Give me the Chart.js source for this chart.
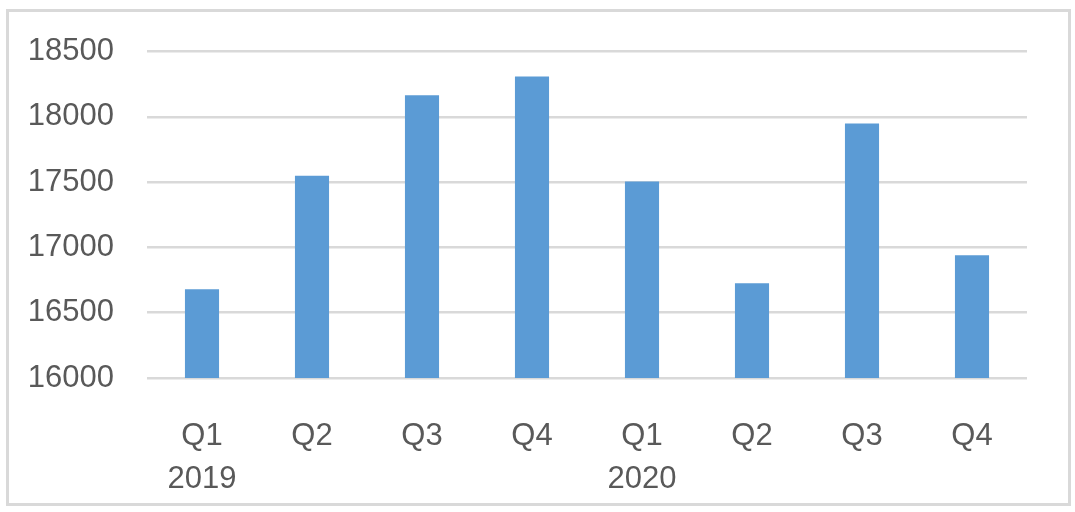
<!DOCTYPE html>
<html>
<head>
<meta charset="utf-8">
<script src="https://cdn.jsdelivr.net/npm/chart.js@4"></script>
<style>
  body { margin: 0; background: #fff; }
  #box { position: absolute; left: 6px; top: 9px; width: 1065px; height: 497px; box-sizing: border-box; border: 3px solid #d9d9d9; }
  #wrap { position: absolute; left: 0; top: 0; width: 1075px; height: 512px; }
</style>
</head>
<body>
<div id="box"></div>
<div id="wrap"><canvas id="myChart" width="1075" height="512"></canvas></div>
<script>
// quarters and years
var quarters = ["Q1", "Q2", "Q3", "Q4", "Q1", "Q2", "Q3", "Q4"];
var years = ["2019", "", "", "", "2020", "", "", ""];
var values = [16680, 17550, 18165, 18310, 17505, 16725, 17950, 16940];

var labels = quarters.map(function(q, i) {
  return [q, years[i]];
});

var ctx = document.getElementById('myChart').getContext('2d');
var myChart = new Chart(ctx, {
  type: 'bar',
  data: {
    labels: labels,
    datasets: [{
      data: values,
      backgroundColor: "#5b9bd5",
      barPercentage: 0.62,
      categoryPercentage: 0.5
    }]
  },
  options: {
    responsive: false,
    animation: false,
    layout: { padding: { left: 7, right: 48, top: 51, bottom: 10 } },
    plugins: { legend: { display: false }, tooltip: { enabled: false } },
    scales: {
      x: {
        grid: { display: false, drawTicks: false },
        border: { display: false },
        ticks: {
          color: "#595959",
          font: { family: "Liberation Sans", size: 31, lineHeight: 1.38 },
          padding: 37,
          maxRotation: 0
        },
        afterFit: function(scale) { scale.height = 124; }
      },
      y: {
        min: 16000,
        max: 18500,
        grid: { color: "#d9d9d9", lineWidth: 2.5, drawTicks: false },
        border: { display: false },
        ticks: {
          stepSize: 500,
          color: "#595959",
          font: { family: "Liberation Sans", size: 31 },
          padding: 33,
          callback: function(v) { return String(v); }
        },
        afterFit: function(scale) { scale.width = 140; }
      }
    }
  }
});
</script>
</body>
</html>
